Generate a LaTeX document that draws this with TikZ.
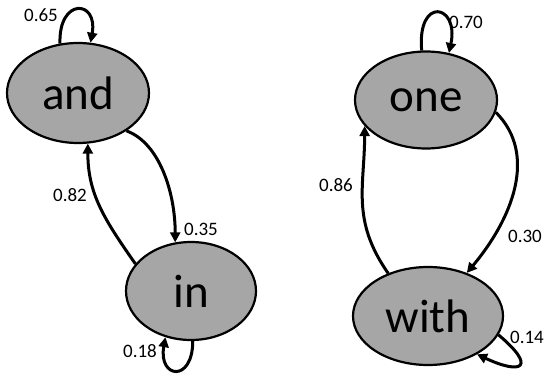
\documentclass[tikz,border=0pt]{standalone}
\usepackage{fontspec}
\setmainfont{Carlito}
\usetikzlibrary{shapes.geometric,arrows.meta}
\definecolor{nodegray}{HTML}{A6A6A6}
\begin{document}
\begin{tikzpicture}[x=1pt,y=-1pt,
  state/.style={ellipse,draw=black,line width=2.2pt,fill=nodegray,inner sep=0pt,
    font=\fontsize{47}{50}\selectfont},
  edge/.style={line width=3pt,-{Triangle[length=10pt,width=10pt]}},
  lbl/.style={inner sep=0pt,font=\fontsize{19}{22}\selectfont}]
\useasboundingbox (0,0) rectangle (545,377);
\node[state,minimum width=142pt,minimum height=100pt] (and) at (78,93) {and};
\node[state,minimum width=130pt,minimum height=98pt] (in) at (191,291) {in};
\node[state,minimum width=142pt,minimum height=97pt] (one) at (426,100) {one};
\node[state,minimum width=150pt,minimum height=98pt] (with) at (428,316) {with};
% and
\draw[edge] (and.110) .. controls +(92:46pt) and +(80:44pt) .. (and.76);
\draw[edge] (and.-38) .. controls +(-20:35pt) and +(90:50pt) .. (in.108);
\draw[edge] (in.154) .. controls +(125:55pt) and +(-90:50pt) .. (and.-79);
\draw[edge] (in.-88) .. controls +(-90:42pt) and +(-100:42pt) .. (in.-119);
% one
\draw[edge] (one.95) .. controls +(95:55pt) and +(78:50pt) .. (one.64);
\draw[edge] (one.-10) .. controls +(-45:60pt) and +(50:70pt) .. (with.48);
\draw[edge] (with.133) .. controls +(125:65pt) and +(-90:60pt) .. (one.203);
\draw[edge] (with.-15) .. controls +(-40:50pt) and +(-25:50pt) .. (with.-38);
% labels
\node[lbl] (l1) at (41,15) {0.65};
\node[lbl] (l2) at (201,229) {0.35};
\node[lbl] (l3) at (70,195) {0.82};
\node[lbl] (l4) at (140,351) {0.18};
\node[lbl] (l5) at (466,22) {0.70};
\node[lbl] (l6) at (525,236) {0.30};
\node[lbl] (l7) at (336,185) {0.86};
\node[lbl] (l8) at (527,337) {0.14};
\end{tikzpicture}
\end{document}
